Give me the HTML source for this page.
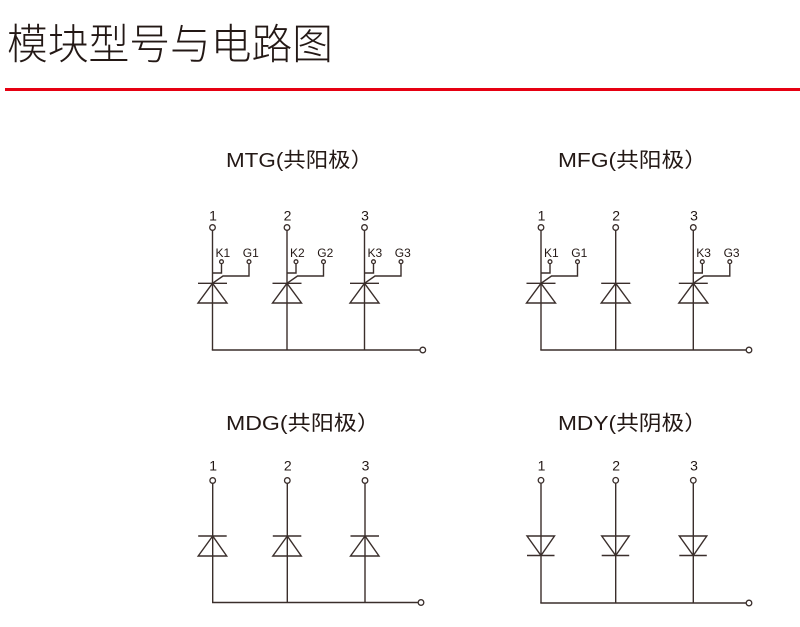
<!DOCTYPE html>
<html>
<head>
<meta charset="utf-8">
<style>
  html,body{margin:0;padding:0;background:#fff;}
  body{width:800px;height:627px;overflow:hidden;}
  svg{display:block;}
  .t{font-family:"Liberation Sans","Noto Sans CJK SC",sans-serif;fill:#231815;}
  .w{stroke:#3a2e2b;stroke-width:1.4;fill:none;}
  .c{stroke:#3a2e2b;stroke-width:1.3;fill:#fff;}
</style>
</head>
<body>
<svg width="800" height="627" viewBox="0 0 800 627" xmlns="http://www.w3.org/2000/svg">
  <!-- header -->
  <text class="t" x="7" y="59" font-size="42" font-weight="300" textLength="326" lengthAdjust="spacingAndGlyphs" style="font-family:'Noto Sans CJK SC','Liberation Sans',sans-serif;">模块型号与电路图</text>
  <rect x="5" y="88" width="795" height="3" fill="#e60012"/>

  <!-- titles -->
  <text class="t" x="226" y="167" font-size="20.5" textLength="147" lengthAdjust="spacingAndGlyphs">MTG(共阳极）</text>
  <text class="t" x="558" y="167" font-size="20.5" textLength="149" lengthAdjust="spacingAndGlyphs">MFG(共阳极）</text>
  <text class="t" x="226" y="430" font-size="20.5" textLength="154" lengthAdjust="spacingAndGlyphs">MDG(共阳极）</text>
  <text class="t" x="558" y="430" font-size="20.5" textLength="149" lengthAdjust="spacingAndGlyphs">MDY(共阴极）</text>

  <!-- ================= MTG ================= -->
  <g>
    <g class="t" font-size="14" text-anchor="middle">
      <text x="213" y="220.5">1</text>
      <text x="287.5" y="220.5">2</text>
      <text x="365" y="220.5">3</text>
    </g>
    <line class="w" x1="212.5" y1="230" x2="212.5" y2="350"/>
    <line class="w" x1="287" y1="230" x2="287" y2="350"/>
    <line class="w" x1="364.5" y1="230" x2="364.5" y2="350"/>
    <line class="w" x1="211.8" y1="350" x2="420" y2="350"/>
    <circle class="c" cx="422.8" cy="350" r="2.8"/>
    <g transform="translate(212.5,0)">
      <line class="w" x1="-14.5" y1="283.3" x2="14.5" y2="283.3"/>
      <polygon class="w" points="0,283.3 -14.5,303 14.5,303"/>
      <polyline class="w" points="9,263.5 9,273 0,273"/>
      <polyline class="w" points="36.5,263.5 36.5,276 10.5,276 0,283.3"/>
      <circle class="c" cx="9" cy="261.7" r="1.9"/>
      <circle class="c" cx="36.5" cy="261.7" r="1.9"/>
      <text class="t" x="3" y="257" font-size="12">K1</text>
      <text class="t" x="30.3" y="257" font-size="12">G1</text>
      <circle class="c" cx="0" cy="227.5" r="2.8"/>
    </g>
    <g transform="translate(287,0)">
      <line class="w" x1="-14.5" y1="283.3" x2="14.5" y2="283.3"/>
      <polygon class="w" points="0,283.3 -14.5,303 14.5,303"/>
      <polyline class="w" points="9,263.5 9,273 0,273"/>
      <polyline class="w" points="36.5,263.5 36.5,276 10.5,276 0,283.3"/>
      <circle class="c" cx="9" cy="261.7" r="1.9"/>
      <circle class="c" cx="36.5" cy="261.7" r="1.9"/>
      <text class="t" x="3" y="257" font-size="12">K2</text>
      <text class="t" x="30.3" y="257" font-size="12">G2</text>
      <circle class="c" cx="0" cy="227.5" r="2.8"/>
    </g>
    <g transform="translate(364.5,0)">
      <line class="w" x1="-14.5" y1="283.3" x2="14.5" y2="283.3"/>
      <polygon class="w" points="0,283.3 -14.5,303 14.5,303"/>
      <polyline class="w" points="9,263.5 9,273 0,273"/>
      <polyline class="w" points="36.5,263.5 36.5,276 10.5,276 0,283.3"/>
      <circle class="c" cx="9" cy="261.7" r="1.9"/>
      <circle class="c" cx="36.5" cy="261.7" r="1.9"/>
      <text class="t" x="3" y="257" font-size="12">K3</text>
      <text class="t" x="30.3" y="257" font-size="12">G3</text>
      <circle class="c" cx="0" cy="227.5" r="2.8"/>
    </g>
  </g>

  <!-- ================= MFG ================= -->
  <g>
    <g class="t" font-size="14" text-anchor="middle">
      <text x="541.5" y="220.5">1</text>
      <text x="616.2" y="220.5">2</text>
      <text x="694" y="220.5">3</text>
    </g>
    <line class="w" x1="541" y1="230" x2="541" y2="350"/>
    <line class="w" x1="615.7" y1="230" x2="615.7" y2="350"/>
    <line class="w" x1="693.3" y1="230" x2="693.3" y2="350"/>
    <line class="w" x1="540.3" y1="350" x2="746.2" y2="350"/>
    <circle class="c" cx="749" cy="350" r="2.8"/>
    <g transform="translate(541,0)">
      <line class="w" x1="-14.5" y1="283.3" x2="14.5" y2="283.3"/>
      <polygon class="w" points="0,283.3 -14.5,303 14.5,303"/>
      <polyline class="w" points="9,263.5 9,273 0,273"/>
      <polyline class="w" points="36.5,263.5 36.5,276 10.5,276 0,283.3"/>
      <circle class="c" cx="9" cy="261.7" r="1.9"/>
      <circle class="c" cx="36.5" cy="261.7" r="1.9"/>
      <text class="t" x="3" y="257" font-size="12">K1</text>
      <text class="t" x="30.3" y="257" font-size="12">G1</text>
      <circle class="c" cx="0" cy="227.5" r="2.8"/>
    </g>
    <g transform="translate(615.7,0)">
      <line class="w" x1="-14.5" y1="283.3" x2="14.5" y2="283.3"/>
      <polygon class="w" points="0,283.3 -14.5,303 14.5,303"/>
      <circle class="c" cx="0" cy="227.5" r="2.8"/>
    </g>
    <g transform="translate(693.3,0)">
      <line class="w" x1="-14.5" y1="283.3" x2="14.5" y2="283.3"/>
      <polygon class="w" points="0,283.3 -14.5,303 14.5,303"/>
      <polyline class="w" points="9,263.5 9,273 0,273"/>
      <polyline class="w" points="36.5,263.5 36.5,276 10.5,276 0,283.3"/>
      <circle class="c" cx="9" cy="261.7" r="1.9"/>
      <circle class="c" cx="36.5" cy="261.7" r="1.9"/>
      <text class="t" x="3" y="257" font-size="12">K3</text>
      <text class="t" x="30.3" y="257" font-size="12">G3</text>
      <circle class="c" cx="0" cy="227.5" r="2.8"/>
    </g>
  </g>

  <!-- ================= MDG ================= -->
  <g>
    <g class="t" font-size="14" text-anchor="middle">
      <text x="213.2" y="470.5">1</text>
      <text x="287.8" y="470.5">2</text>
      <text x="365.5" y="470.5">3</text>
    </g>
    <line class="w" x1="212.7" y1="483" x2="212.7" y2="602.5"/>
    <line class="w" x1="287.3" y1="483" x2="287.3" y2="602.5"/>
    <line class="w" x1="365" y1="483" x2="365" y2="602.5"/>
    <line class="w" x1="212" y1="602.5" x2="418.2" y2="602.5"/>
    <circle class="c" cx="421" cy="602.5" r="2.8"/>
    <g transform="translate(212.7,0)">
      <line class="w" x1="-14.5" y1="536" x2="14" y2="536"/>
      <polygon class="w" points="0,536 -14.5,556 14,556"/>
      <circle class="c" cx="0" cy="480.5" r="2.8"/>
    </g>
    <g transform="translate(287.3,0)">
      <line class="w" x1="-14.5" y1="536" x2="14" y2="536"/>
      <polygon class="w" points="0,536 -14.5,556 14,556"/>
      <circle class="c" cx="0" cy="480.5" r="2.8"/>
    </g>
    <g transform="translate(365,0)">
      <line class="w" x1="-14.5" y1="536" x2="14" y2="536"/>
      <polygon class="w" points="0,536 -14.5,556 14,556"/>
      <circle class="c" cx="0" cy="480.5" r="2.8"/>
    </g>
  </g>

  <!-- ================= MDY ================= -->
  <g>
    <g class="t" font-size="14" text-anchor="middle">
      <text x="541.5" y="470.5">1</text>
      <text x="616.2" y="470.5">2</text>
      <text x="694" y="470.5">3</text>
    </g>
    <line class="w" x1="541" y1="483" x2="541" y2="603"/>
    <line class="w" x1="615.7" y1="483" x2="615.7" y2="603"/>
    <line class="w" x1="693.3" y1="483" x2="693.3" y2="603"/>
    <line class="w" x1="540.3" y1="603" x2="746.2" y2="603"/>
    <circle class="c" cx="749" cy="603" r="2.8"/>
    <g transform="translate(541,0)">
      <polygon class="w" points="-14,536 13.5,536 0,555.5"/>
      <line class="w" x1="-14" y1="555.5" x2="13.5" y2="555.5"/>
      <circle class="c" cx="0" cy="480.3" r="2.8"/>
    </g>
    <g transform="translate(615.7,0)">
      <polygon class="w" points="-14,536 13.5,536 0,555.5"/>
      <line class="w" x1="-14" y1="555.5" x2="13.5" y2="555.5"/>
      <circle class="c" cx="0" cy="480.3" r="2.8"/>
    </g>
    <g transform="translate(693.3,0)">
      <polygon class="w" points="-14,536 13.5,536 0,555.5"/>
      <line class="w" x1="-14" y1="555.5" x2="13.5" y2="555.5"/>
      <circle class="c" cx="0" cy="480.3" r="2.8"/>
    </g>
  </g>
</svg>
</body>
</html>
